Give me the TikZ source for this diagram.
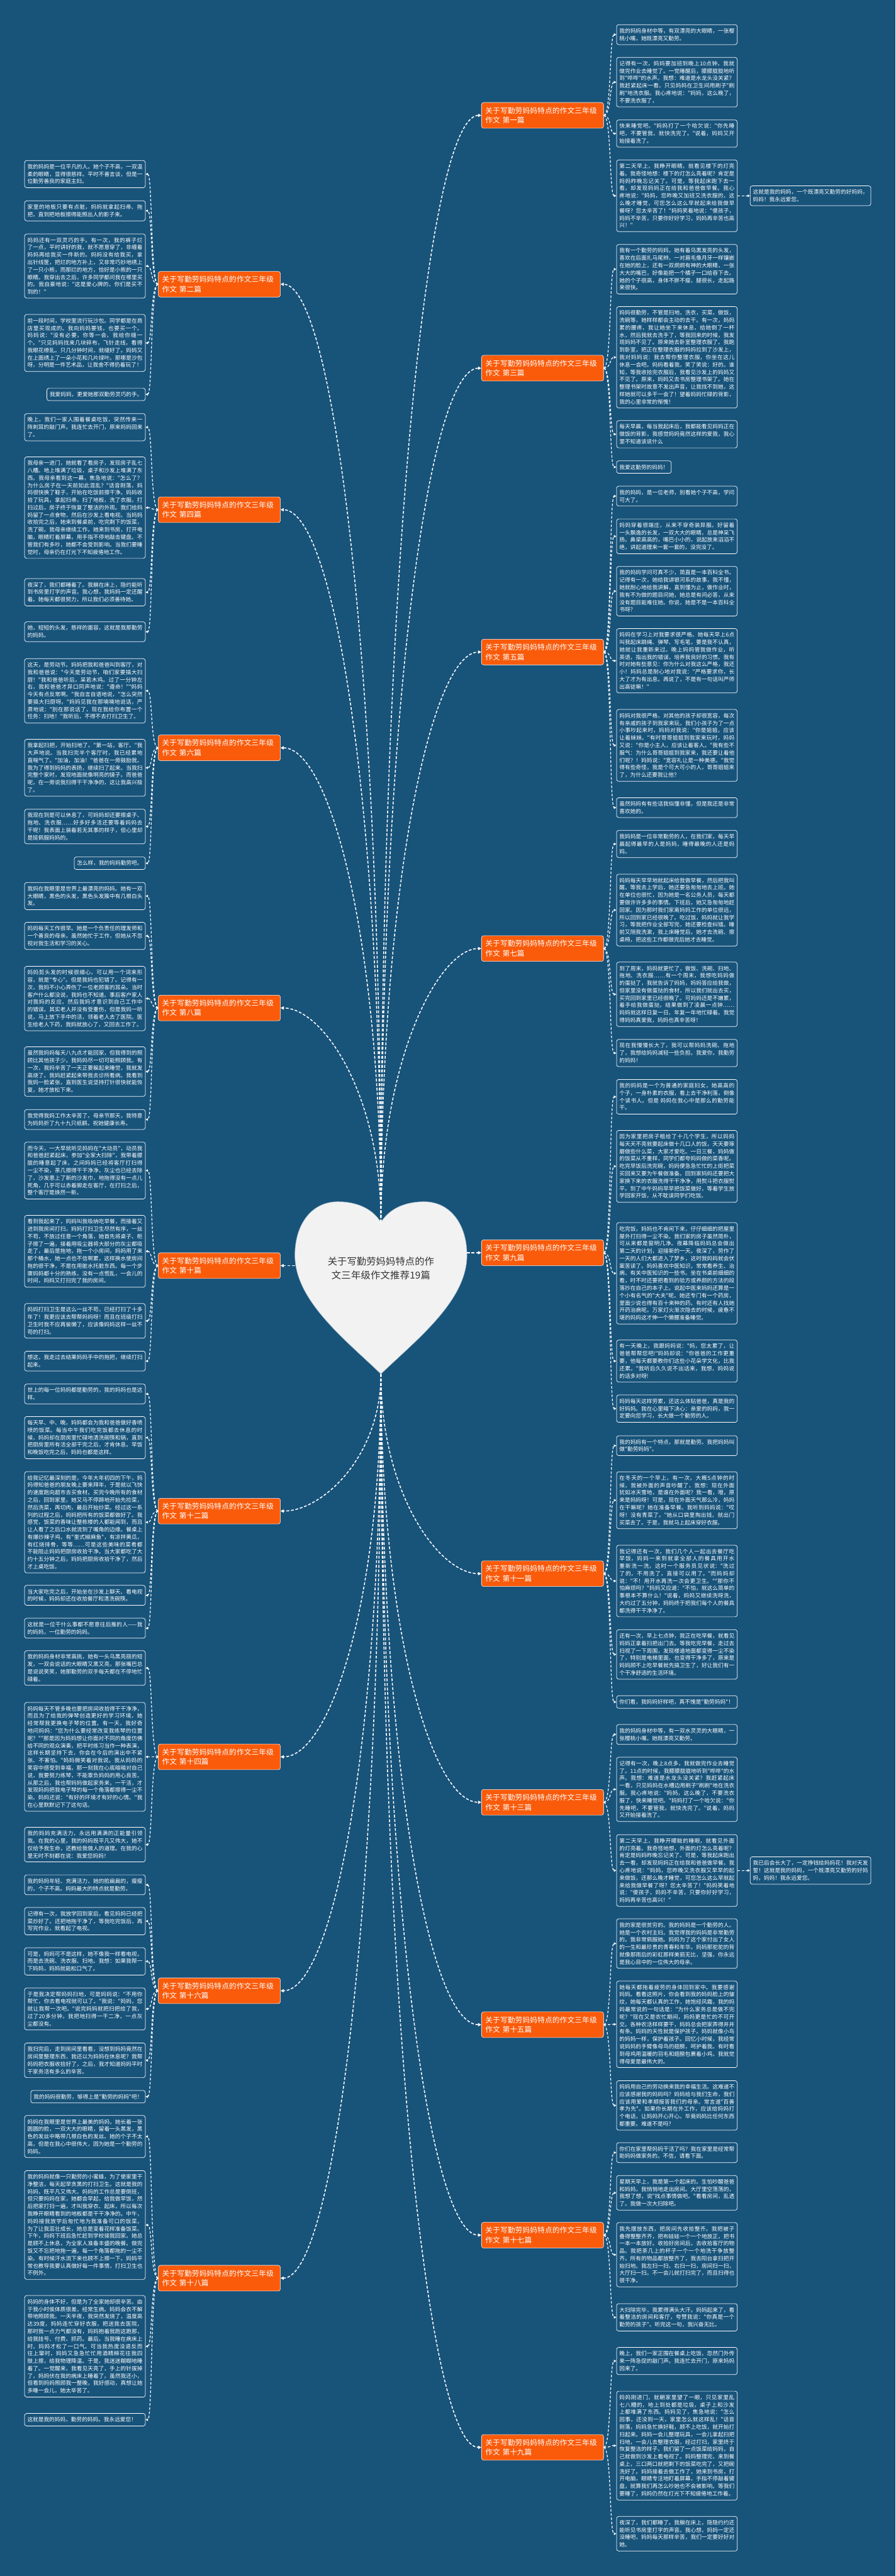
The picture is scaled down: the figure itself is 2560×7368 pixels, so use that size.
\documentclass[tikz,border=0pt]{standalone}
\usepackage{fontspec}
\newfontfamily\cjkfont{Noto Sans CJK SC}
\usetikzlibrary{arrows.meta}
\definecolor{mbg}{HTML}{18537A}
\definecolor{morange}{HTML}{F95B0B}
\definecolor{mheart}{HTML}{F2F2F2}
\definecolor{mhub}{HTML}{333333}
\XeTeXlinebreaklocale "zh"
\XeTeXlinebreakskip=0pt plus 1.5pt

\tikzset{
  link/.style={draw=white, line width=2.8pt, dash pattern=on 8pt off 5pt, -{Triangle[length=9pt,width=9pt]}},
  sublink/.style={draw=white, line width=2.2pt, dash pattern=on 7pt off 5pt, -{Triangle[length=7pt,width=7pt]}},
  rtree/.style={to path={.. controls +(22,0) and +(-20,0) .. (\tikztotarget)}},
  ltree/.style={to path={.. controls +(-22,0) and +(20,0) .. (\tikztotarget)}},
  leafbox/.style={draw=white, line width=1.3pt, rounded corners=6pt, fill=mbg, text=white,
    font=\cjkfont\fontsize{15.6pt}{21.2pt}\selectfont, inner xsep=8pt, inner ysep=10.5pt},
  leaf/.style={leafbox, text width=329pt, align=justify},
  topic/.style={draw=white!75, line width=1pt, rounded corners=6pt, fill=morange, text=white,
    font=\cjkfont\fontsize{21pt}{28pt}\selectfont, inner xsep=11pt, inner ysep=13pt, text width=327pt, align=left},
  hubtext/.style={text=mhub, font=\cjkfont\fontsize{27.5pt}{40pt}\selectfont, text width=318pt, align=center}
}

\begin{document}
\begin{tikzpicture}[x=1pt, y=-1pt]
\useasboundingbox (0,0) rectangle (2560,7368);
\fill[mbg] (0,0) rectangle (2560,7368);

% centre heart
\coordinate (hcusp) at (1089,3496);
\coordinate (htip) at (1089,3930);
\coordinate (hleft) at (843,3620);
\coordinate (hright) at (1335,3583);
\filldraw[fill=mheart, draw=mbg!50!white, line width=1pt]
  (hcusp) .. controls (1062,3452) and (1012,3437) .. (966,3437)
  .. controls (888,3437) and (843,3505) .. (843,3590)
  .. controls (843,3720) and (985,3830) .. (htip)
  .. controls (1193,3830) and (1335,3720) .. (1335,3590)
  .. controls (1335,3505) and (1290,3437) .. (1212,3437)
  .. controls (1166,3437) and (1116,3452) .. (hcusp) -- cycle;
\node[hubtext] (hub) at (1089,3628) {关于写勤劳妈妈特点的作文三年级作文推荐19篇};

% right topics
\node[topic, anchor=west] (o1) at (1376,330) {关于写勤劳妈妈特点的作文三年级作文 第一篇};
\node[topic, anchor=west] (o3) at (1376,1053) {关于写勤劳妈妈特点的作文三年级作文 第三篇};
\node[topic, anchor=west] (o5) at (1376,1865) {关于写勤劳妈妈特点的作文三年级作文 第五篇};
\node[topic, anchor=west] (o7) at (1376,2713) {关于写勤劳妈妈特点的作文三年级作文 第七篇};
\node[topic, anchor=west] (o9) at (1376,3583) {关于写勤劳妈妈特点的作文三年级作文 第九篇};
\node[topic, anchor=west] (o11) at (1376,4501) {关于写勤劳妈妈特点的作文三年级作文 第十一篇};
\node[topic, anchor=west] (o13) at (1376,5155) {关于写勤劳妈妈特点的作文三年级作文 第十三篇};
\node[topic, anchor=west] (o15) at (1376,5791) {关于写勤劳妈妈特点的作文三年级作文 第十五篇};
\node[topic, anchor=west] (o17) at (1376,6393) {关于写勤劳妈妈特点的作文三年级作文 第十七篇};
\node[topic, anchor=west] (o19) at (1376,7000) {关于写勤劳妈妈特点的作文三年级作文 第十九篇};

% left topics
\node[topic, anchor=east] (o2) at (802,813) {关于写勤劳妈妈特点的作文三年级作文 第二篇};
\node[topic, anchor=east] (o4) at (802,1458) {关于写勤劳妈妈特点的作文三年级作文 第四篇};
\node[topic, anchor=east] (o6) at (802,2139) {关于写勤劳妈妈特点的作文三年级作文 第六篇};
\node[topic, anchor=east] (o8) at (802,2883) {关于写勤劳妈妈特点的作文三年级作文 第八篇};
\node[topic, anchor=east] (o10) at (802,3620) {关于写勤劳妈妈特点的作文三年级作文 第十篇};
\node[topic, anchor=east] (o12) at (802,4322) {关于写勤劳妈妈特点的作文三年级作文 第十二篇};
\node[topic, anchor=east] (o14) at (802,5025) {关于写勤劳妈妈特点的作文三年级作文 第十四篇};
\node[topic, anchor=east] (o16) at (802,5694) {关于写勤劳妈妈特点的作文三年级作文 第十六篇};
\node[topic, anchor=east] (o18) at (802,6516) {关于写勤劳妈妈特点的作文三年级作文 第十八篇};

% heart to topics
\draw[link] (hcusp) .. controls +(0,-1900) and +(-150,0) .. (o1.west);
\draw[link] (hcusp) .. controls +(0,-1466) and +(-150,0) .. (o3.west);
\draw[link] (hcusp) .. controls +(0,-979) and +(-140,0) .. (o5.west);
\draw[link] (hcusp) .. controls +(0,-470) and +(-120,0) .. (o7.west);
\draw[link] (hright) -- (o9.west);
\draw[link] (htip) .. controls +(0,343) and +(-120,0) .. (o11.west);
\draw[link] (htip) .. controls +(0,735) and +(-140,0) .. (o13.west);
\draw[link] (htip) .. controls +(0,1117) and +(-150,0) .. (o15.west);
\draw[link] (htip) .. controls +(0,1478) and +(-150,0) .. (o17.west);
\draw[link] (htip) .. controls +(0,1842) and +(-150,0) .. (o19.west);
\draw[link] (hcusp) .. controls +(0,-1610) and +(150,0) .. (o2.east);
\draw[link] (hcusp) .. controls +(0,-1223) and +(150,0) .. (o4.east);
\draw[link] (hcusp) .. controls +(0,-814) and +(140,0) .. (o6.east);
\draw[link] (hcusp) .. controls +(0,-368) and +(120,0) .. (o8.east);
\draw[link] (hleft) -- (o10.east);
\draw[link] (htip) .. controls +(0,235) and +(120,0) .. (o12.east);
\draw[link] (htip) .. controls +(0,657) and +(140,0) .. (o14.east);
\draw[link] (htip) .. controls +(0,1058) and +(150,0) .. (o16.east);
\draw[link] (htip) .. controls +(0,1552) and +(150,0) .. (o18.east);

% essay 1
\node[leaf, anchor=west] (t1a) at (1762,99) {我的妈妈身材中等，有双漂亮的大眼睛，一张樱桃小嘴，她既漂亮又勤劳。};
\node[leaf, anchor=west] (t1b) at (1762,235) {记得有一次，妈妈要加班到晚上10点钟，我就做完作业去睡觉了。一觉睡醒后，朦朦胧胧地听到"哗哗"的水声。我想：难道是水龙头没关紧？我赶紧起床一看，只见妈妈在卫生间用刷子"刷刷"地洗衣服。我心疼地说："妈妈，这么晚了，不要洗衣服了，};
\node[leaf, anchor=west] (t1c) at (1762,382) {快来睡觉吧。"妈妈打了一个哈欠说："你先睡吧，不要管我，就快洗完了。"说着，妈妈又开始接着洗了。};
\node[leaf, anchor=west] (t1d) at (1762,560) {第二天早上，我睁开眼睛，就看见楼下的灯亮着。我奇怪地想：楼下的灯怎么亮着呢？肯定是妈妈昨晚忘记关了。可是，等我起床跑下去一看，却发现妈妈正在给我和爸爸做早餐。我心疼地说："妈妈，您昨晚又加班又洗衣服的，这么晚才睡觉，可您怎么这么早就起来给我做早餐呀？您太辛苦了！"妈妈笑着地说："傻孩子，妈妈不辛苦，只要你好好学习，妈妈再辛苦也高兴！"};
\node[leaf, anchor=west] (f1) at (2144,560) {这就是我的妈妈，一个既漂亮又勤劳的好妈妈，妈妈！我永远爱您。};
\draw[sublink, rtree] (o1.east) to (t1a.west);
\draw[sublink, rtree] (o1.east) to (t1b.west);
\draw[sublink, rtree] (o1.east) to (t1c.west);
\draw[sublink, rtree] (o1.east) to (t1d.west);
\draw[sublink] (t1d.east) -- (f1.west);

% essay 3
\node[leaf, anchor=west] (t3a) at (1762,770) {我有一个勤劳的妈妈，她有着乌黑发亮的头发，喜欢在后面扎马尾辫，一对眉毛像月牙一样镶嵌在她的脸上，还有一双炯炯有神的大眼睛，一张大大的嘴巴，好像能把一个橘子一口给吞下去。她的个子很高，身体不胖不瘦，腿很长，走起路来很快。};
\node[leaf, anchor=west] (t3b) at (1762,1022) {妈妈很勤劳，不管是扫地，洗衣，买菜，做饭，洗碗等，她样样都会主动的去干。有一次，妈妈累的腰疼，我让她坐下来休息，给她倒了一杯水，然后我就去洗手了，等我回来的时候，我发现妈妈不见了。原来她去卧室整理衣服了。我跑到卧室，把正在整理衣服的妈妈拉到了沙发上，我对妈妈说：我去帮你整理衣服，你坐在这儿休息一会吧。妈妈看着我，笑了笑说：好的。谁知，等我收拾完衣服后，我看见沙发上的妈妈又不见了。原来，妈妈又去书房整理书架了。她在整理书架时故意不发出声音，让我找不到她，这样她就可以多干一会了！望着妈妈忙碌的背影，我的心里非常的惭愧！};
\node[leaf, anchor=west] (t3c) at (1762,1242) {每天早晨，每当我起床后，我都能看见妈妈正在做饭的背影，我感觉妈妈竟然这样的爱我，我心里不知道该说什么};
\node[leafbox, anchor=west] (t3d) at (1762,1336) {我爱这勤劳的妈妈！};
\draw[sublink, rtree] (o3.east) to (t3a.west);
\draw[sublink, rtree] (o3.east) to (t3b.west);
\draw[sublink, rtree] (o3.east) to (t3c.west);
\draw[sublink, rtree] (o3.east) to (t3d.west);

% essay 5
\node[leaf, anchor=west] (t5a) at (1762,1419) {我的妈妈，是一位老师，别看她个子不高，学问可大了。};
\node[leaf, anchor=west] (t5b) at (1762,1534) {妈妈穿着很端庄，从来不穿奇装异服。好留着一头飘逸的长发，一双大大的眼睛，总是神采飞扬。鼻梁高高的，嘴巴小小的，说起放来滔滔不绝，讲起道理来一套一套的，没完没了。};
\node[leaf, anchor=west] (t5c) at (1762,1691) {我的妈妈学问可真不少，简直是一本百科全书。记得有一次，她给我讲银河系的故事，我不懂，她就耐心地给我讲解，直到懂为止，做作业时，我有不为做的题目问她，她总是有问必答，从来没有题目能难住她。你说，她是不是一本百科全书呀？};
\node[leaf, anchor=west] (t5d) at (1762,1890) {妈妈在学习上对我要求很严格。她每天早上6点叫我起床跳绳、弹琴、写毛笔，要是我不认真，她就让我重新来过。晚上妈妈管我做作业，听英语，指出我的错误，培养我良好的习惯。我有时对她有些意见：你为什么对我这么严格，我还小！妈妈总是耐心地对我说："严格要求你，长大了才为有出息。再说了，不是有一句话叫严师出高徒嘛！"};
\node[leaf, anchor=west] (t5e) at (1762,2132) {妈妈对我很严格，对其他的孩子却很宽容，每次有亲戚的孩子到我家来玩，我们小孩子为了一点小事吵起来时，妈妈对我说："你是姐姐，应该让着妹妹。"有时哥哥姐姐到我家来玩时，妈妈又说："你是小主人，应该让着客人。"我有些不服气：为什么哥哥姐姐到我家来，我还要让着他们呢？！妈妈说："宽容礼让是一种美德。"我觉得有些奇怪，我是个可大可小的人，哥哥姐姐来了，为什么还要我让他？};
\node[leaf, anchor=west] (t5f) at (1762,2310) {虽然妈妈有有些话我似懂非懂，但是我还是非常喜欢她的。};
\draw[sublink, rtree] (o5.east) to (t5a.west);
\draw[sublink, rtree] (o5.east) to (t5b.west);
\draw[sublink, rtree] (o5.east) to (t5c.west);
\draw[sublink, rtree] (o5.east) to (t5d.west);
\draw[sublink, rtree] (o5.east) to (t5e.west);
\draw[sublink, rtree] (o5.east) to (t5f.west);

% essay 7
\node[leaf, anchor=west] (t7a) at (1762,2414) {我妈妈是一位非常勤劳的人，在我们家，每天早晨起得最早的人是妈妈，睡得最晚的人还是妈妈。};
\node[leaf, anchor=west] (t7b) at (1762,2603) {妈妈每天早早地就起床给我做早餐，然后把我叫醒。等我去上学后，她还要急匆匆地去上班。她在单位也很忙，因为她是一名公务人员，每天都要做许许多多的事情。下班后，她又急匆匆地赶回家。因为那时我们家离妈妈工作的单位很远，所以回到家已经很晚了。吃过饭，妈妈就让我学习，等我把作业全部写完，她还要检查纠错。睡前又陪我洗漱，我上床睡觉后，她才去洗碗、擦桌椅，把这些工作都做完后她才去睡觉。};
\node[leaf, anchor=west] (t7c) at (1762,2844) {到了周末，妈妈就更忙了，做饭、洗碗、扫地、拖地、洗衣服……有一个周末，我想吃妈妈做的蛋挞了，我就告诉了妈妈，妈妈答应给我做，但家里没有做蛋挞的食材，所以我们就出去买，买完回到家里已经很晚了。可妈妈还是不嫌累，着手给我做蛋挞，结果做到了凌晨一点钟……妈妈就这样日复一日、年复一年地忙碌着。我觉得妈妈真爱我，妈妈也真辛苦呀！};
\node[leaf, anchor=west] (t7d) at (1762,3012) {现在我慢慢长大了，我可以帮妈妈洗碗、拖地了，我想给妈妈减轻一些负担。我爱你，我勤劳的妈妈！};
\draw[sublink, rtree] (o7.east) to (t7a.west);
\draw[sublink, rtree] (o7.east) to (t7b.west);
\draw[sublink, rtree] (o7.east) to (t7c.west);
\draw[sublink, rtree] (o7.east) to (t7d.west);

% essay 9
\node[leaf, anchor=west] (t9a) at (1762,3137) {我的妈妈是一个为普通的家庭妇女，她高高的个子，一身朴素的衣服，看上去干净利落，倒像个读书人。但是 妈妈在我心中是那么的勤劳能干。};
\node[leaf, anchor=west] (t9b) at (1762,3336) {因为家里把房子租给了十几个学生，所以妈妈每天天不亮就要起床做十几口人的饭，天天要琢磨做些什么菜，大家才爱吃。一日三餐，妈妈做的饭菜从不重样，同学们都夸妈妈做的菜香呢。吃完早饭后洗完碗，妈妈便急急忙忙的上街把菜买回来又要为午餐做准备。回到家妈妈还要把大家换下来的衣服洗得干干净净，用熨斗把衣服熨平。到了中午妈妈早早把饭菜做好，等着学生放学回家开饭，从不耽误同学们吃饭。};
\node[leaf, anchor=west] (t9c) at (1762,3642) {吃完饭，妈妈也不肯闲下来，仔仔细细的把屋里屋外打扫得一尘不染。我们家的房子虽然简朴，可从来都是窗明几净。夜幕降临妈妈总会做出第二天的计划，迎接新的一天。夜深了，劳作了一天的人们大都进入了梦乡，这时我妈妈就会伏案苦读了。妈妈喜欢中医知识，常常看养生、治病、有关中医知识的一些书。坐在书桌前细细的看，时不时还要把看到的验方或养颜的方法的段落抄在自己的本子上。说起中医来妈妈还算是一个小有名气的"大夫"呢。她还专门有一个药房，里面少说也得有百十来种的药。有时还有人找她开药治病呢。万家灯火渐次隐去的时候，疲惫不堪的妈妈这才伸一个懒腰准备睡觉。};
\node[leaf, anchor=west] (t9d) at (1762,3893) {有一天晚上，我跟妈妈说："妈，您太累了，让爸爸帮帮您吧!"妈妈却说："你爸爸的工作更重要，他每天都要教你们这些小花朵学文化，比我还累。"我听后久久说不出话来，我想，妈妈说的话多对呀!};
\node[leaf, anchor=west] (t9e) at (1762,4029) {妈妈每天这样劳累，还这么体贴爸爸，真是我的好妈妈。我在心里暗下决心：亲爱的妈妈，我一定要向您学习，长大做一个勤劳的人。};
\draw[sublink, rtree] (o9.east) to (t9a.west);
\draw[sublink, rtree] (o9.east) to (t9b.west);
\draw[sublink, rtree] (o9.east) to (t9c.west);
\draw[sublink, rtree] (o9.east) to (t9d.west);
\draw[sublink, rtree] (o9.east) to (t9e.west);

% essay 11
\node[leaf, anchor=west] (t11a) at (1762,4135) {我的妈妈有一个特点，那就是勤劳。我把妈妈叫做"勤劳妈妈"。};
\node[leaf, anchor=west] (t11b) at (1762,4291) {在冬天的一个早上，有一次，大概5点钟的时候，我被外面的声音吵醒了，我想：现在外面犹如冰天雪地，是谁在外面呢？我一看，哦，原来是妈妈呀！可是，现在外面天气那么冷，妈妈在干嘛呢？她在准备早餐。我听到妈妈说："哎呀！没有青菜了。"她从口袋里掏出钱，就出门买菜去了。于是，我就马上起床穿好衣服。};
\node[leaf, anchor=west] (t11c) at (1762,4522) {我记得还有一次，我们几个人一起出去餐厅吃早饭，妈妈一来到就拿全部人的餐具用开水重新洗一洗，这时一个服务员见状说："洗过了的，不用洗了，直接可以用了。"而妈妈却说："不！用开水再洗一次会更卫生。""那你不怕麻烦吗？"妈妈又应道："不怕，就这么简单的事根本不算什么！"说着，妈妈又继续洗呀洗，大约过了五分钟，妈妈终于把我们每个人的餐具都洗得干干净净了。};
\node[leaf, anchor=west] (t11d) at (1762,4732) {还有一次，早上七点钟，我正在吃早餐，就看见妈妈正拿着扫把出门去。等我吃完早餐，走过去扫视了一下周围，发现楼道地面都变得一尘不染了，特别是电梯里面，也变得干净多了，原来是妈妈顾不上吃早餐就先搞卫生了，好让我们有一个干净舒适的生活环境。};
\node[leaf, anchor=west] (t11e) at (1762,4868) {你们看，我妈妈好样吧，真不愧是"勤劳妈妈"！};
\draw[sublink, rtree] (o11.east) to (t11a.west);
\draw[sublink, rtree] (o11.east) to (t11b.west);
\draw[sublink, rtree] (o11.east) to (t11c.west);
\draw[sublink, rtree] (o11.east) to (t11d.west);
\draw[sublink, rtree] (o11.east) to (t11e.west);

% essay 13
\node[leaf, anchor=west] (t13a) at (1762,4961) {我的妈妈身材中等，有一双水灵灵的大眼睛，一张樱桃小嘴，她既漂亮又勤劳。};
\node[leaf, anchor=west] (t13b) at (1762,5118) {记得有一次，晚上8点多，我就做完作业去睡觉了。11点的时候，我朦朦胧胧地听到"哗哗"的水声。我想：难道是水龙头没关紧？我赶紧起床一看，只见妈妈在水槽边用刷子"刷刷"地在洗衣服。我心疼地说："妈妈，这么晚了，不要洗衣服了，快来睡觉吧。"妈妈打了一个哈欠说："你先睡吧，不要管我，就快洗完了。"说着，妈妈又开始接着洗了。};
\node[leaf, anchor=west] (t13c) at (1762,5350) {第二天早上，我睁开矇眬的睡眼，就看见外面的灯亮着。我奇怪地想，外面的灯怎么亮着呢？肯定是妈妈昨晚忘记关了。可是，等我起床跑出去一看，却发现妈妈正在给我和爸爸做早餐。我心疼地说："妈妈，您昨晚又洗衣服又早早的起来做饭，还那么晚才睡觉，可您怎么这么早就起来给我做早餐了呀？您太辛苦了！"妈妈笑着地说："傻孩子，妈妈不辛苦，只要你好好学习，妈妈再辛苦也高兴！"};
\node[leaf, anchor=west] (f13) at (2144,5350) {我已后会长大了，一定挣钱给妈妈花！我对天发誓！这就是我的妈妈，一个既漂亮又勤劳的好妈妈，妈妈！我永远爱您。};
\draw[sublink, rtree] (o13.east) to (t13a.west);
\draw[sublink, rtree] (o13.east) to (t13b.west);
\draw[sublink, rtree] (o13.east) to (t13c.west);
\draw[sublink] (t13c.east) -- (f13.west);

% essay 15
\node[leaf, anchor=west] (t15a) at (1762,5559) {我的家是很贫穷的。我的妈妈是一个勤劳的人。她是一个农村主妇。我觉得我的妈妈是非常勤劳的。我非常佩服她。妈妈为了这个家付出了女人的一生和最珍贵的青春和年华。妈妈那驼驼的背就像那雨后的彩虹那样美丽无比，坚强，你永远是我心目中的一位伟大的母亲。};
\node[leaf, anchor=west] (t15b) at (1762,5790) {她每天都拖着疲劳的身体回到家中。我要感谢妈妈。看看这照片，你会看到我的妈妈脸上的皱纹，她每天都认真的工作，她饱经风霜，我的妈妈最常说的一句话是："为什么家务总是做不完呢？"现在又是农忙期间，妈妈更是忙的不可开交。各种农活样样要干，妈妈总会把家弄得井井有条。妈妈的天性就是保护孩子。妈妈就像小鸟的妈妈一样，保护着孩子。回忆小时候，我经常说妈妈的手臂像母鸟的翅膀，呵护着我。有时看到母鸡用温暖的羽毛和翅膀包裹着小鸡，我就觉得母爱是最伟大的。};
\node[leaf, anchor=west] (t15c) at (1762,6022) {妈妈用自己的劳动换来我的幸福生活。这难道不应该感谢我的妈妈吗？妈妈给与我们生命，我们应该用爱和孝顺报答我们的母亲。常言道"百善孝为先"。如果你长期在外工作，应该给妈妈打个电话，让妈妈开心开心。毕竟妈妈比任何东西都重要。难道不是吗？};
\draw[sublink, rtree] (o15.east) to (t15a.west);
\draw[sublink, rtree] (o15.east) to (t15b.west);
\draw[sublink, rtree] (o15.east) to (t15c.west);

% essay 17
\node[leaf, anchor=west] (t17a) at (1762,6157) {你们在家里帮妈妈干活了吗？我在家里是经常帮助妈妈做家务的。不信，请看下面。};
\node[leaf, anchor=west] (t17b) at (1762,6272) {星期天早上，我是第一个起床的。生怕吵醒爸爸和妈妈，我悄悄地走出房间。大厅里空荡荡的，我想了想，说"找点事情做吧。"看看房间，乱透了。我做一次大扫除吧。};
\node[leaf, anchor=west] (t17c) at (1762,6449) {我先摆放东西，把房间先收拾整齐。我把被子叠得整整齐齐，把布娃娃一个一个地放正，把书一本一本放好。收拾好房间后，去收拾客厅的物品。我把茶几上的杯子一个一个地洗干争放整齐。所有的物品都放整齐了，我去阳台拿扫把开始扫地。我左扫一扫，右扫一扫，房间扫一扫，大厅扫一扫。不一会儿就打扫完了，而且扫得也很干净。};
\node[leaf, anchor=west] (t17d) at (1762,6628) {大扫除完毕，我累得满头大汗。妈妈起来了，看着整洁的房间和客厅，夸赞我说："你真是一个勤劳的孩子"。听完这一句，我兴奋无比。};
\draw[sublink, rtree] (o17.east) to (t17a.west);
\draw[sublink, rtree] (o17.east) to (t17b.west);
\draw[sublink, rtree] (o17.east) to (t17c.west);
\draw[sublink, rtree] (o17.east) to (t17d.west);

% essay 19
\node[leaf, anchor=west] (t19a) at (1762,6753) {晚上，我们一家正围在餐桌上吃饭，忽然门外传来一阵急促的敲门声。我连忙去开门，原来妈妈回来了。};
\node[leaf, anchor=west] (t19b) at (1762,6995) {妈妈刚进门，就朝家里望了一眼，只见家里乱七八糟的，地上到处都是垃圾，桌子上和沙发上都堆满了东西。妈妈见了，焦急地说："怎么回事，还没到一天，家里怎么就这样乱！"话音刚落，妈妈急忙换好鞋，顾不上吃饭，就开始打扫起来。妈妈一会儿整理玩具，一会儿拿起扫把扫地，一会儿去整理衣服，经过打扫，家里终于恢复整洁的样子。我们留了一点饭菜给妈妈，自己就做到沙发上看电视了。妈妈整理完，来到餐桌上，三口两口就把剩下的饭菜吃完了，又把碗洗好了。妈妈接着去做工作了，她来到书房，打开电脑，眼睛专注地盯着屏幕，手指不停敲着键盘，就算我们再怎么吵她也不会被影响。等我们要睡了，妈妈仍然在灯光下不知疲倦地工作着。};
\node[leaf, anchor=west] (t19c) at (1762,7247) {夜深了，我们都睡了。我躺在床上，隐隐约约还能听见书房里打字的声音。我心想，妈妈一定还没睡吧，妈妈每天那样辛苦，我们一定要好好对她。};
\draw[sublink, rtree] (o19.east) to (t19a.west);
\draw[sublink, rtree] (o19.east) to (t19b.west);
\draw[sublink, rtree] (o19.east) to (t19c.west);

% essay 2
\node[leaf, anchor=east] (t2a) at (416,498) {我的妈妈是一位平凡的人。她个子不高，一双温柔的眼睛，显得很慈祥。平时不善言谈，但是一位勤劳善良的家庭主妇。};
\node[leaf, anchor=east] (t2b) at (416,603) {家里的地板只要有点脏，妈妈就拿起扫帚、拖把，直到把地板擦得能照出人的影子来。};
\node[leaf, anchor=east] (t2c) at (416,761) {妈妈还有一双灵巧的手。有一次，我的裤子烂了一点，平时讲好的我，就不愿意穿了，非缠着妈妈再给我买一件新的。妈妈没有给我买，拿出针线筐，把烂的地方补上，又非常巧妙地绣上了一只小熊，而那烂的地方，恰好是小熊的一只眼睛。我穿出去之后，许多同学都问我在哪里买的。我自豪地说："这是爱心牌的，你们是买不到的！"};
\node[leaf, anchor=east] (t2d) at (416,981) {前一段时间，学校里流行玩沙包。同学都是在商店里买现成的。我向妈妈要钱，也要买一个。妈妈说："没有必要，你等一会，我给你缝一个。"只见妈妈找来几块碎布，飞针走线，看得我眼花缭乱。只几分钟时间，就缝好了。妈妈又在上面绣上了一朵小花和几片绿叶。那哪是沙包呀，分明是一件艺术品，让我舍不得扔着玩了！};
\node[leafbox, anchor=east] (t2e) at (416,1128) {我爱妈妈，更爱她那双勤劳灵巧的手。};
\draw[sublink, ltree] (o2.west) to (t2a.east);
\draw[sublink, ltree] (o2.west) to (t2b.east);
\draw[sublink, ltree] (o2.west) to (t2c.east);
\draw[sublink, ltree] (o2.west) to (t2d.east);
\draw[sublink, ltree] (o2.west) to (t2e.east);

% essay 4
\node[leaf, anchor=east] (t4a) at (416,1222) {晚上，我们一家人围着餐桌吃饭，突然传来一阵刺耳的敲门声。我连忙去开门，原来妈妈回来了。};
\node[leaf, anchor=east] (t4b) at (416,1452) {我母亲一进门，她就看了看房子，发现房子乱七八糟。地上堆满了垃圾，桌子和沙发上堆满了东西。我母亲看到这一幕，焦急地说："怎么了？为什么房子在一天前如此混乱？"话音刚落，妈妈很快换了鞋子，开始在吃饭前擦干净。妈妈收拾了玩具，拿起扫帚，扫了地板，洗了衣服。打扫过后，房子终于恢复了整洁的外观。我们给妈妈留了一点食物，然后在沙发上看电视。当妈妈收拾完之后，她来到餐桌前，吃完剩下的饭菜，洗了碗。我母亲继续工作。她来到书房，打开电脑，眼睛盯着屏幕，用手指不停地敲击键盘。不管我们有多吵，她都不会受到影响。当我们要睡觉时，母亲仍在灯光下不知疲倦地工作。};
\node[leaf, anchor=east] (t4c) at (416,1694) {夜深了，我们都睡着了。我躺在床上，隐约能听到书房里打字的声音。我心想，我妈妈一定还醒着。她每天都很努力，所以我们必须善待她。};
\node[leaf, anchor=east] (t4d) at (416,1807) {她，短短的头发，慈祥的面容，这就是我那勤劳的妈妈。};
\draw[sublink, ltree] (o4.west) to (t4a.east);
\draw[sublink, ltree] (o4.west) to (t4b.east);
\draw[sublink, ltree] (o4.west) to (t4c.east);
\draw[sublink, ltree] (o4.west) to (t4d.east);

% essay 6
\node[leaf, anchor=east] (t6a) at (416,1976) {这天，是劳动节。妈妈把我和爸爸叫到客厅，对我和爸爸说："今天是劳动节，咱们家要搞大扫厨！"我和爸爸听后，呆若木鸡。过了一分钟左右，我和爸爸才异口同声地说："遵命！""妈妈今天有点反常啊。"我自言自语地说，"怎么突然要搞大扫厨呀。"妈妈见我在那喃喃地说话，严肃地说："别在那说话了，现在我给你布置一个任务：扫地！"我听后，不得不去打扫卫生了。};
\node[leaf, anchor=east] (t6b) at (416,2196) {我拿起扫把，开始扫地了。"第一站，客厅。"我大声地说。当我扫完半个客厅时，我已经累地直喘气了。"加油，加油！"爸爸在一旁鼓励我。我为了得到妈妈的表扬，继续扫了起来。当我扫完整个家时，发现地面就像明亮的镜子。而爸爸呢，在一旁说我扫得干干净净的，这让我高兴极了。};
\node[leaf, anchor=east] (t6c) at (416,2364) {我现在到是可以休息了，可妈妈却还要擦桌子、拖地、洗衣服……好多好多活还要等着妈妈去干呢！我表面上装着若无其事的样子，但心里却是挺佩服妈妈的。};
\node[leafbox, anchor=east] (t6d) at (416,2469) {怎么样，我的妈妈勤劳吧。};
\draw[sublink, ltree] (o6.west) to (t6a.east);
\draw[sublink, ltree] (o6.west) to (t6b.east);
\draw[sublink, ltree] (o6.west) to (t6c.east);
\draw[sublink, ltree] (o6.west) to (t6d.east);

% essay 8
\node[leaf, anchor=east] (t8a) at (416,2563) {我妈在我眼里是世界上最漂亮的妈妈。她有一双大眼睛，黑色的头发，黑色头发簇中有几根白头发。};
\node[leaf, anchor=east] (t8b) at (416,2677) {妈妈每天工作很早。她是一个负责任的理发师和一个善良的母亲。虽然她忙于工作，但她从不忽视对我生活和学习的关心。};
\node[leaf, anchor=east] (t8c) at (416,2856) {妈妈剪头发的时候很细心，可以用一个词来形容，就是"专心"。但是我妈也犯错了。记得有一次，我妈不小心弄伤了一位老顾客的耳朵。当时客户什么都没说，我妈也不知道。事后客户家人对我妈的反应，然后我妈才意识到自己工作中的错误。其实老人并没有受重伤，但是我妈一听说，马上放下手中的活，领着老人去了医院。医生给老人下药，我妈就放心了，又回去工作了。};
\node[leaf, anchor=east] (t8d) at (416,3065) {虽然我妈妈每天八九点才能回家，但我得到的照顾比其他孩子少。我妈妈尽一切可能照顾我。有一次，我妈辛苦了一天正要躲起来睡觉，我就发高烧了。我妈赶紧起来带我去诊所看病。我看到我妈一脸紧张，直到医生说坚持打针很快就能恢复，她才放松下来。};
\node[leaf, anchor=east] (t8e) at (416,3202) {我觉得我妈工作太辛苦了。母亲节那天，我特意为妈妈折了九十九只纸鹤，祝她健康长寿。};
\draw[sublink, ltree] (o8.west) to (t8a.east);
\draw[sublink, ltree] (o8.west) to (t8b.east);
\draw[sublink, ltree] (o8.west) to (t8c.east);
\draw[sublink, ltree] (o8.west) to (t8d.east);
\draw[sublink, ltree] (o8.west) to (t8e.east);

% essay 10
\node[leaf, anchor=east] (t10a) at (416,3348) {而今天，一大早就听见妈妈在"大动员"，动员我和爸爸赶紧起床，参加"全家大扫除"，我带着朦胧的睡意起了床，之间妈妈已经将客厅打扫得一尘不染，茶几擦得干干净净，灰尘也已经去除了，沙发患上了新的沙发巾，地拖得没有一点儿死角，几乎可以赤着脚走在客厅，在打扫之后，整个客厅是焕然一新。};
\node[leaf, anchor=east] (t10b) at (416,3579) {看到我起来了，妈妈叫我吸纳吃早餐，而接着又进到我房间打扫，妈妈打扫卫生尽然有序，一丝不苟，不放过任意一个角落，她首先将桌子、柜子擦了一遍，接着用吸尘器将大部分的灰尘都吸走了，最后是拖地，拖一个小房间，妈妈用了来那个桶水，她一点也不信啊累，这样换水使房间拖的很干净，不是在用脏水托脏东西。每一个步骤妈妈都十分的熟练，没有一点慌乱，一会儿的时间，妈妈又打扫完了我的房间。};
\node[leaf, anchor=east] (t10c) at (416,3778) {妈妈打扫卫生是这么一丝不苟，已经打扫了十多年了！我更应该去帮帮妈妈呀！而且在班级打扫卫生时我不应再偷懒了，应该像妈妈这样一丝不苟的打扫。};
\node[leaf, anchor=east] (t10d) at (416,3893) {想这，我走过去结果妈妈手中的拖把，继续打扫起来。};
\draw[sublink, ltree] (o10.west) to (t10a.east);
\draw[sublink, ltree] (o10.west) to (t10b.east);
\draw[sublink, ltree] (o10.west) to (t10c.east);
\draw[sublink, ltree] (o10.west) to (t10d.east);

% essay 12
\node[leaf, anchor=east] (t12a) at (416,3987) {世上的每一位妈妈都是勤劳的，我的妈妈也是这样。};
\node[leaf, anchor=east] (t12b) at (416,4112) {每天早、中、晚，妈妈都会为我和爸爸做好香喷喷的饭菜。每当中午我们吃完饭都去休息的时候，妈妈却在厨房里忙碌地清洗碗筷和锅，直到把厨房里所有活全部干完之后，才肯休息。早饭和晚饭吃完之后，妈妈也都是这样。};
\node[leaf, anchor=east] (t12c) at (416,4354) {给我记忆最深刻的是，今年大年初四的下午，妈妈得知爸爸的朋友晚上要来拜年，于是就以飞快的速度跑向超市去买食材。买完今晚所有的食材之后，回到家里，她又马不停蹄地开始先捡菜，然后洗菜，再切肉，最后开始炒菜。经过这一系列的过程之后，妈妈把所有的饭菜都做好了。我感觉，饭菜的香味让整栋楼的人都能闻到，而且让人看了之后口水就流到了嘴角的边缘。餐桌上有爆炒辣子鸡，有"奎式椒麻鱼"，有凉拌黄瓜，有红烧排骨，等等……可是这些美味的菜肴都不能阻止妈妈把厨房收拾干净。当大家都吃了大约十五分钟之后，妈妈把厨房收拾干净了，然后才上桌吃饭。};
\node[leaf, anchor=east] (t12d) at (416,4563) {当大家吃完之后，开始坐在沙发上聊天、看电视的时候，妈妈却还在收拾餐厅和清洗碗筷。};
\node[leaf, anchor=east] (t12e) at (416,4657) {这就是一位干什么事都不愿意往后推的人——我的妈妈，一位勤劳的妈妈。};
\draw[sublink, ltree] (o12.west) to (t12a.east);
\draw[sublink, ltree] (o12.west) to (t12b.east);
\draw[sublink, ltree] (o12.west) to (t12c.east);
\draw[sublink, ltree] (o12.west) to (t12d.east);
\draw[sublink, ltree] (o12.west) to (t12e.east);

% essay 14
\node[leaf, anchor=east] (t14a) at (416,4771) {我的妈妈身材非常高挑，她有一头乌黑亮丽的短发，一双会说话的大眼睛又黑又亮，那张嘴巴总是说说笑笑，她那勤劳的双手每天都在不停地忙碌着。};
\node[leaf, anchor=east] (t14b) at (416,5025) {妈妈每天不管多晚也要把房间收拾得干干净净，而且为了给我的弹琴创造更好的学习环境，她经常帮我更换电子琴的位置。有一天，我好奇地问妈妈："您为什么要经常改变我练琴的位置呢？""那是因为妈妈想让你面对不同的角度仿佛给不同的观众演奏，把平时练习当作一种表演，这样长期坚持下去，你会在今后的演出中不紧张、不害怕。"妈妈微笑着对我说。我从妈妈的笑容中感受到幸福，那一刻我在心底暗暗对自己说，我要努力练琴，不能辜负妈妈的用心良苦。从那之后，我也帮妈妈做起家务来，一干活，才发现妈妈把我电子琴的每一个角落都擦得一尘不染。妈妈还说："有好的环境才有好的心情。"我在心里默默记下了这句话。};
\node[leaf, anchor=east] (t14c) at (416,5276) {我的妈妈充满活力，永远用满满的正能量引领我。在我的心里，我的妈妈既平凡又伟大，她不仅给予我生命，还教给我做人的道理。在我的心里无时不刻都在说：我爱您妈妈！};
\draw[sublink, ltree] (o14.west) to (t14a.east);
\draw[sublink, ltree] (o14.west) to (t14b.east);
\draw[sublink, ltree] (o14.west) to (t14c.east);

% essay 16
\node[leaf, anchor=east] (t16a) at (416,5391) {我的妈妈年轻、充满活力，她的脸扁扁的，瘦瘦的，个子不高。妈妈最大的特点就是勤劳。};
\node[leaf, anchor=east] (t16b) at (416,5495) {记得有一次，我放学回到家后，看见妈妈已经把菜炒好了。还把地拖干净了，等我吃完饭后，再写完作业，就看起了电视。};
\node[leaf, anchor=east] (t16c) at (416,5610) {可是，妈妈可不是这样，她不像我一样看电视，而是去洗碗、洗衣服、扫地。我想：如果我帮一下妈妈，妈妈就能松口气了。};
\node[leaf, anchor=east] (t16d) at (416,5746) {于是我决定帮妈妈扫地，可是妈妈说："不用你帮忙，你去看电视就可以了。"我说："妈妈，您就让我帮一次吧。"说完妈妈就把扫把给了我，过了20多分钟，我把地扫得一干二净，一点灰尘都没有。};
\node[leaf, anchor=east] (t16e) at (416,5893) {我扫完后，走到房间里看看，没想到妈妈竟然在房间里整理东西，我还以为妈妈在休息呢？我帮妈妈把衣服收拾好了，之后，我才知道妈妈平时干家务活有多么的辛苦。};
\node[leafbox, anchor=east] (t16f) at (416,5997) {我的妈妈很勤劳，够得上是"勤劳的妈妈"吧！};
\draw[sublink, ltree] (o16.west) to (t16a.east);
\draw[sublink, ltree] (o16.west) to (t16b.east);
\draw[sublink, ltree] (o16.west) to (t16c.east);
\draw[sublink, ltree] (o16.west) to (t16d.east);
\draw[sublink, ltree] (o16.west) to (t16e.east);
\draw[sublink, ltree] (o16.west) to (t16f.east);

% essay 18
\node[leaf, anchor=east] (t18a) at (416,6111) {妈妈在我眼里是世界上最美的妈妈，她长着一张圆圆的脸，一双大大的眼睛，留着一头黑发，黑色的发丝中略带几根白色的发丝。她的个子不太高，但是在我心中很伟大，因为她是一个勤劳的妈妈。};
\node[leaf, anchor=east] (t18b) at (416,6364) {我的妈妈就像一只勤劳的小蜜蜂，为了使家里干净整洁，每天起早贪黑的打扫卫生。这就是我的妈妈，既平凡又伟大。妈妈的工作总是要倒班，但只要妈妈在家，她都会早起，给我做早饭，然后把家打扫一遍，才叫我穿衣、起床，所以每次我睁开眼睛看到的地板都是干干净净的。中午，妈妈接我放学后匆忙地为我准备可口的饭菜，为了让我茁壮成长，她总是变着花样准备饭菜。下午，妈妈下班后急忙赶到学校接我回家。她总是顾不上休息，为全家人准备丰盛的晚餐。做完饭又不忘把地拖一遍，每一个角落都拖的一尘不染。有时候汗水流下来也顾不上擦一下。妈妈平常也教导我要认真做好每一件事情，打扫卫生也不例外。};
\node[leaf, anchor=east] (t18c) at (416,6711) {妈妈的身体不好，但是为了全家她却很辛苦。由于我小时侯体质很差，经常生病。妈妈会衣不解带地照顾我。一天半夜，我突然发烧了，温度高达39度，妈妈连忙穿好衣服，把送我去医院，那时我一点力气都没有，妈妈抱着我跑这跑那，给我挂号、付费、抓药。最后，当我睡在病床上时，妈妈才松了一口气。可当我热度没退反而往上窜时，妈妈又急急忙忙用酒精棉花往我四肢上擦，给我物理降温。于是，我迷迷糊糊地睡着了。一觉醒来，我看见天亮了，手上的针拔掉了，妈妈伏在我的病床上睡着了。虽然我还小，但看到妈妈照顾我一整晚，我好感动，真想让她多睡一会儿，她太辛苦了。};
\node[leaf, anchor=east] (t18d) at (416,6921) {这就是我的妈妈，勤劳的妈妈。我永远爱您！};
\draw[sublink, ltree] (o18.west) to (t18a.east);
\draw[sublink, ltree] (o18.west) to (t18b.east);
\draw[sublink, ltree] (o18.west) to (t18c.east);
\draw[sublink, ltree] (o18.west) to (t18d.east);
\end{tikzpicture}
\end{document}
